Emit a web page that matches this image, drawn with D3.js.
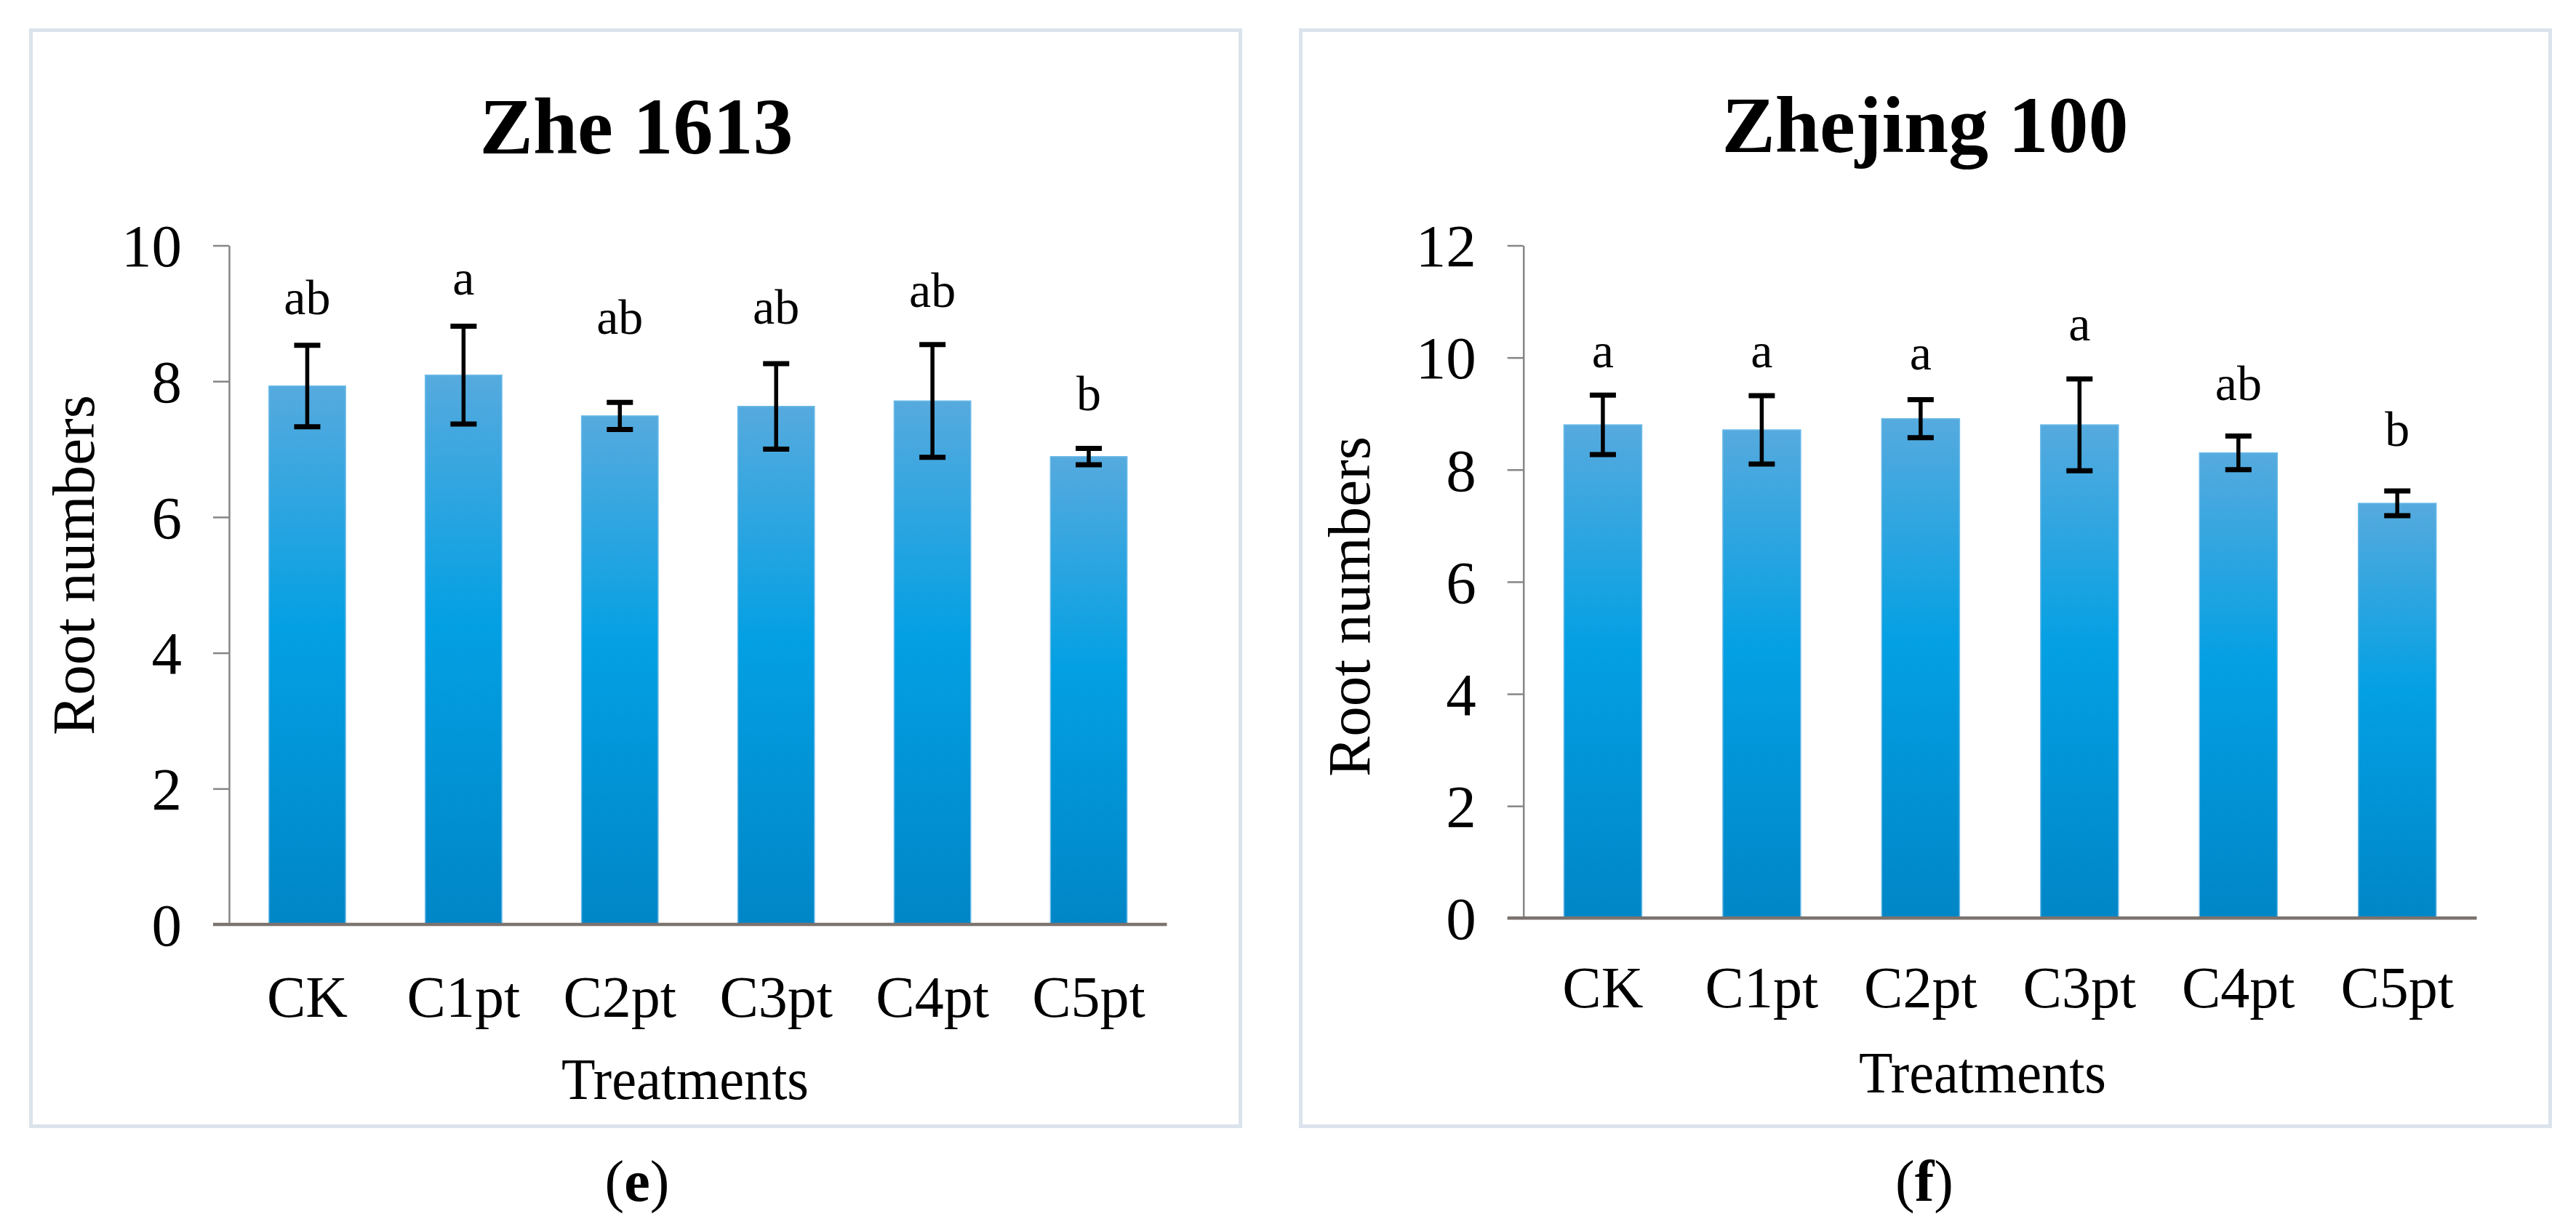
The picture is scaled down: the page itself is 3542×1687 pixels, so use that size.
<!DOCTYPE html>
<html>
<head>
<meta charset="utf-8">
<script src="https://cdn.jsdelivr.net/npm/d3@7"></script>
<style>
  html, body { margin: 0; padding: 0; background: #ffffff; }
  svg { display: block; }
  text { font-family: "Liberation Serif", "Times New Roman", serif; fill: #000; }
</style>
</head>
<body>
<svg id="chart" width="3542" height="1687"></svg>
<script>
// ---------- data ----------
const categories = ["CK", "C1pt", "C2pt", "C3pt", "C4pt", "C5pt"];

const zhe1613Means   = [7.93, 8.09, 7.49, 7.63, 7.71, 6.89];
const zhe1613Errors  = [0.60, 0.72, 0.20, 0.63, 0.83, 0.12];
const zhe1613Letters = ["ab", "a", "ab", "ab", "ab", "b"];
const zhe1613LetterLevels = [8.99, 9.28, 8.70, 8.85, 9.09, 7.57];
const zhe1613Ticks   = [0, 2, 4, 6, 8, 10];

const zhejing100Means   = [8.80, 8.71, 8.91, 8.80, 8.30, 7.40];
const zhejing100Errors  = [0.53, 0.61, 0.34, 0.82, 0.30, 0.22];
const zhejing100Letters = ["a", "a", "a", "a", "ab", "b"];
const zhejing100LetterLevels = [9.83, 9.83, 9.79, 10.31, 9.24, 8.42];
const zhejing100Ticks   = [0, 2, 4, 6, 8, 10, 12];

const panelTitles = ["Zhe 1613", "Zhejing 100"];
const panelTags = ["e", "f"];
const yAxisTitle = "Root numbers";
const xAxisTitle = "Treatments";

// ---------- drawing ----------
const svg = d3.select("#chart");
svg.append("rect").attr("width", 3542).attr("height", 1687).attr("fill", "#fff");

const defs = svg.append("defs");
const grad = defs.append("linearGradient")
  .attr("id", "barGrad").attr("x1", 0).attr("y1", 0).attr("x2", 0).attr("y2", 1);
grad.append("stop").attr("offset", "0%").attr("stop-color", "#56aade");
grad.append("stop").attr("offset", "45%").attr("stop-color", "#03a0e3");
grad.append("stop").attr("offset", "100%").attr("stop-color", "#0086c7");

function drawPanel(cfg) {
  const g = svg.append("g");

  // frame
  g.append("rect")
    .attr("x", cfg.frame[0]).attr("y", cfg.frame[1])
    .attr("width", cfg.frame[2]).attr("height", cfg.frame[3])
    .attr("fill", "#fff").attr("stroke", "#dbe3ec").attr("stroke-width", 5);

  const x = d3.scaleBand().domain(categories)
    .range(cfg.xRange).paddingInner(0.51).paddingOuter(0.255);
  const y = d3.scaleLinear().domain(cfg.yDomain).range(cfg.yRange);

  // title
  g.append("text").attr("x", cfg.titleX).attr("y", cfg.titleY)
    .attr("text-anchor", "middle").attr("font-size", 110).attr("font-weight", "bold")
    .text(cfg.title);

  // y axis
  const yAxis = d3.axisLeft(y).tickValues(cfg.ticks).tickSize(22).tickPadding(43).tickSizeOuter(0)
    .tickFormat(d3.format("d"));
  const ya = g.append("g").attr("transform", `translate(${cfg.xRange[0]},0)`).call(yAxis);
  ya.select(".domain").attr("stroke", "#868686").attr("stroke-width", 2.5);
  ya.selectAll(".tick line").attr("stroke", "#868686").attr("stroke-width", 2.5);
  ya.selectAll(".tick text").attr("font-size", 83)
    .attr("font-family", "Liberation Serif, Times New Roman, serif").attr("fill", "#000")
    .attr("dy", "0.34em");

  // bars
  const data = categories.map((c, i) => ({ c, m: cfg.means[i], e: cfg.errors[i], l: cfg.letters[i], lv: cfg.levels[i] }));
  g.selectAll("rect.bar").data(data).enter().append("rect")
    .attr("class", "bar")
    .attr("x", d => x(d.c)).attr("width", x.bandwidth())
    .attr("y", d => y(d.m)).attr("height", d => y(0) - y(d.m))
    .attr("fill", "url(#barGrad)")
    .attr("stroke", "#6cbbe9").attr("stroke-width", 1.5);

  // x axis line
  g.append("line")
    .attr("x1", cfg.xRange[0] - 22).attr("x2", cfg.xRange[1])
    .attr("y1", y(0)).attr("y2", y(0))
    .attr("stroke", "#7b736e").attr("stroke-width", 4.5);

  // x axis labels
  const xAxis = d3.axisBottom(x).tickSize(0).tickPadding(0);
  const xa = g.append("g").attr("transform", `translate(0,${y(0)})`).call(xAxis);
  xa.select(".domain").remove();
  xa.selectAll(".tick text").attr("font-size", 80)
    .attr("font-family", "Liberation Serif, Times New Roman, serif").attr("fill", "#000")
    .attr("dy", null).attr("y", cfg.catOffset);

  // error bars
  const cx = d => x(d.c) + x.bandwidth() / 2;
  const eb = g.selectAll("g.err").data(data).enter().append("g").attr("class", "err");
  eb.append("line").attr("x1", cx).attr("x2", cx)
    .attr("y1", d => y(d.m + d.e)).attr("y2", d => y(d.m - d.e))
    .attr("stroke", "#000").attr("stroke-width", 5.5);
  eb.append("line").attr("x1", d => cx(d) - 18).attr("x2", d => cx(d) + 18)
    .attr("y1", d => y(d.m + d.e)).attr("y2", d => y(d.m + d.e))
    .attr("stroke", "#000").attr("stroke-width", 7);
  eb.append("line").attr("x1", d => cx(d) - 18).attr("x2", d => cx(d) + 18)
    .attr("y1", d => y(d.m - d.e)).attr("y2", d => y(d.m - d.e))
    .attr("stroke", "#000").attr("stroke-width", 7);

  // significance letters
  g.selectAll("text.sig").data(data).enter().append("text")
    .attr("class", "sig")
    .attr("x", cx).attr("y", d => y(d.lv))
    .attr("text-anchor", "middle").attr("font-size", 68)
    .text(d => d.l);

  // axis titles
  g.append("text")
    .attr("transform", `translate(${cfg.yTitleX},${cfg.yTitleY}) rotate(-90)`)
    .attr("text-anchor", "middle").attr("font-size", 83)
    .text(yAxisTitle);
  g.append("text").attr("x", cfg.xTitleX).attr("y", cfg.xTitleY)
    .attr("text-anchor", "middle").attr("font-size", 80)
    .attr("textLength", 340).attr("lengthAdjust", "spacingAndGlyphs")
    .text(xAxisTitle);

  // panel tag
  const t = g.append("text").attr("x", cfg.tagX).attr("y", 1651)
    .attr("text-anchor", "middle").attr("font-size", 80);
  t.append("tspan").text("(");
  t.append("tspan").attr("font-weight", "bold").text(cfg.tag);
  t.append("tspan").text(")");
}

drawPanel({
  frame: [42.5, 41.5, 1663, 1507],
  xRange: [315, 1604.5], yRange: [1271, 337.5], yDomain: [0, 10],
  ticks: zhe1613Ticks, means: zhe1613Means, errors: zhe1613Errors,
  letters: zhe1613Letters, levels: zhe1613LetterLevels,
  title: panelTitles[0], titleX: 875, titleY: 211,
  catOffset: 127, yTitleX: 129, yTitleY: 777,
  xTitleX: 942, xTitleY: 1511, tag: panelTags[0], tagX: 876
});

drawPanel({
  frame: [1788.5, 41.5, 1718, 1507],
  xRange: [2094.7, 3405.5], yRange: [1262.3, 337.5], yDomain: [0, 12],
  ticks: zhejing100Ticks, means: zhejing100Means, errors: zhejing100Errors,
  letters: zhejing100Letters, levels: zhejing100LetterLevels,
  title: panelTitles[1], titleX: 2647, titleY: 209,
  catOffset: 123, yTitleX: 1883, yTitleY: 834,
  xTitleX: 2726, xTitleY: 1502, tag: panelTags[1], tagX: 2646
});
</script>
</body>
</html>
